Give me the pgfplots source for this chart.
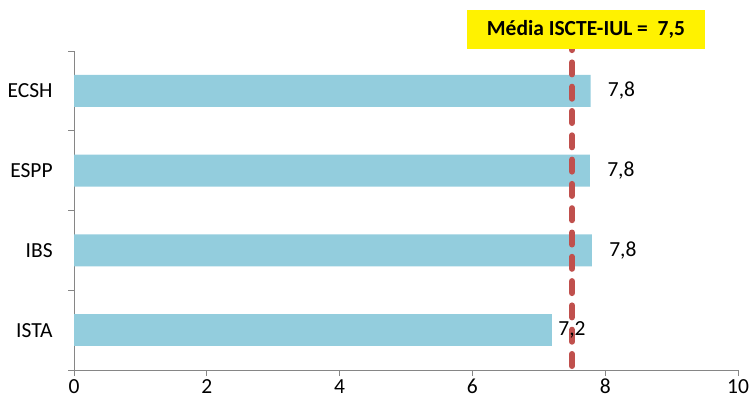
\documentclass[border=0pt]{standalone}
\usepackage{fontspec}
\setmainfont{Carlito}
\usepackage{pgfplots}
\pgfplotsset{compat=1.18}
\definecolor{barblue}{HTML}{93CDDD}
\definecolor{avgred}{HTML}{C0504D}
\definecolor{axgray}{HTML}{868686}
\begin{document}
\fontsize{21.5bp}{25bp}\selectfont
\begin{tikzpicture}
\path[use as bounding box] (0,0) rectangle (750bp,405bp);
\begin{axis}[
  at={(74bp,35bp)}, anchor=south west,
  scale only axis, width=664bp, height=319bp,
  /pgf/number format/assume math mode=true,
  bar width=0.4,
  xmin=0, xmax=10, ymin=-0.5, ymax=3.5,
  axis x line*=bottom, axis y line*=left,
  axis line style={axgray, line width=1bp, -},
  xtick={0,2,...,10},
  ytick={0,1,2,3}, yticklabels={ISTA,IBS,ESPP,ECSH},
  minor ytick={-0.5,0.5,1.5,2.5,3.5},
  major y tick style={draw=none},
  tick align=outside,
  major tick length=6bp, minor tick length=6bp,
  tick style={axgray, line width=1bp},
  minor tick style={axgray, line width=1bp},
  tick label style={font=\fontsize{21.5bp}{25bp}\selectfont, text=black},
  yticklabel style={xshift=-8bp},
  xticklabel style={yshift=-1bp, inner sep=2bp},
  clip=false,
]
\addplot[xbar, bar shift=0pt, fill=barblue, draw=none, point meta=x,
  nodes near coords={\pgfmathprintnumber[fixed,fixed zerofill,precision=1,use comma]{\pgfplotspointmeta}},
  every node near coord/.append style={anchor=west, xshift=10bp, text=black, font=\fontsize{21.5bp}{25bp}\selectfont}]
  coordinates {(7.78,3) (7.77,2) (7.80,1)};
\addplot[xbar, bar shift=0pt, fill=barblue, draw=none, point meta=x,
  nodes near coords={\pgfmathprintnumber[fixed,fixed zerofill,precision=1,use comma]{\pgfplotspointmeta}},
  every node near coord/.append style={anchor=west, xshift=-1bp, text=black, font=\fontsize{21.5bp}{25bp}\selectfont}]
  coordinates {(7.2,0)};
\addplot[avgred, line width=6bp, line cap=round, dash pattern=on 12bp off 12.3bp, mark=none]
  coordinates {(7.5,-0.45) (7.5,3.55)};
\node[fill=yellow, minimum width=238bp, minimum height=39bp, inner sep=0pt,
  font=\bfseries\fontsize{21.5bp}{25bp}\selectfont]
  at ([yshift=21.5bp]axis cs:7.71,3.5) {Média ISCTE-IUL =\ \ 7,5};
\end{axis}
\end{tikzpicture}
\end{document}
